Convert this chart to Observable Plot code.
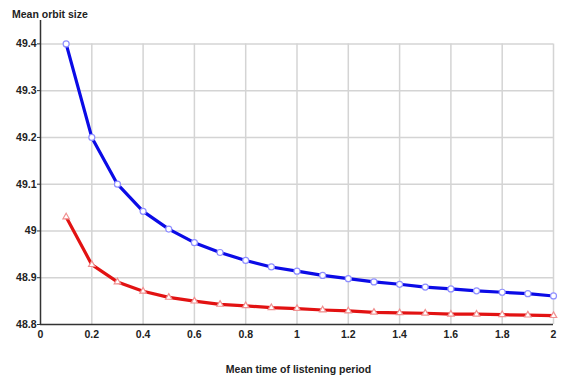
<!DOCTYPE html>
<html>
<head>
<meta charset="utf-8">
<script src="https://cdn.jsdelivr.net/npm/d3@7"></script>
<script src="https://cdn.jsdelivr.net/npm/@observablehq/plot@0.6"></script>
<style>
  body { margin: 0; background: #fff; }
  #wrap { position: relative; width: 571px; height: 377px; font-family: "Liberation Sans", Arial, sans-serif; }
  .lbl { position: absolute; font-weight: bold; font-size: 10.5px; color: #222; white-space: nowrap; }
</style>
</head>
<body>
<div id="wrap">
  <div id="chart"></div>
  <div class="lbl" style="left:12px; top:8px;">Mean orbit size</div>
  <div class="lbl" style="left:0; width:571px; text-align:center; padding-left:26px; box-sizing:border-box; top:363px;">Mean time of listening period</div>
</div>
<script>
const xs = [0.1, 0.2, 0.3, 0.4, 0.5, 0.6, 0.7, 0.8, 0.9, 1.0, 1.1, 1.2, 1.3, 1.4, 1.5, 1.6, 1.7, 1.8, 1.9, 2.0];
const blueSeries = [49.40, 49.20, 49.10, 49.042, 49.004, 48.975, 48.954, 48.937, 48.923, 48.914, 48.905, 48.898, 48.891, 48.886, 48.880, 48.876, 48.872, 48.869, 48.866, 48.861];
const redSeries = [49.030, 48.928, 48.891, 48.871, 48.858, 48.850, 48.843, 48.840, 48.836, 48.834, 48.831, 48.829, 48.826, 48.825, 48.824, 48.822, 48.822, 48.821, 48.820, 48.819];
const xTicks = [0, 0.2, 0.4, 0.6, 0.8, 1, 1.2, 1.4, 1.6, 1.8, 2];
const xTickLabels = ["0", "0.2", "0.4", "0.6", "0.8", "1", "1.2", "1.4", "1.6", "1.8", "2"];
const yTicks = [48.8, 48.9, 49, 49.1, 49.2, 49.3, 49.4];
const yTickLabels = ["48.8", "48.9", "49", "49.1", "49.2", "49.3", "49.4"];

const blueData = xs.map((x, i) => ({x, y: blueSeries[i]}));
const redData = xs.map((x, i) => ({x, y: redSeries[i]}));
const xFmt = d => xTickLabels[xTicks.findIndex(t => Math.abs(t - d) < 1e-9)];
const yFmt = d => yTickLabels[yTicks.findIndex(t => Math.abs(t - d) < 1e-9)];

const chart = Plot.plot({
  width: 571,
  height: 377,
  marginLeft: 40,
  marginRight: 18,
  marginTop: 20,
  marginBottom: 53,
  style: {background: "#fff", fontFamily: "Liberation Sans, Arial, sans-serif"},
  x: {domain: [0, 2]},
  y: {domain: [48.8, 49.45]},
  marks: [
    Plot.ruleY(yTicks.slice(1), {x1: 0, x2: 2, stroke: "#d4d4d4", strokeWidth: 1.5}),
    Plot.ruleX(xTicks.slice(1), {y1: 48.8, y2: 49.4, stroke: "#d4d4d4", strokeWidth: 1.5}),
    Plot.ruleX([0], {y1: 48.8, y2: 49.45, stroke: "#333", strokeWidth: 1.5}),
    Plot.ruleY([48.8], {x1: 0, x2: 2, stroke: "#333", strokeWidth: 1.5}),
    Plot.axisY({ticks: yTicks, tickFormat: yFmt, tickSize: 3, tickPadding: 1, fontWeight: "bold", fontSize: 10.5, fill: "#222", stroke: "#333", label: null}),
    Plot.axisX({ticks: xTicks, tickFormat: xFmt, tickSize: 0, tickPadding: 6, fontWeight: "bold", fontSize: 10.5, fill: "#222", label: null}),
    Plot.line(blueData, {x: "x", y: "y", stroke: "#0b0be6", strokeWidth: 3.2}),
    Plot.line(redData, {x: "x", y: "y", stroke: "#e21212", strokeWidth: 3.2}),
    Plot.dot(blueData, {x: "x", y: "y", r: 3, fill: "#fff", stroke: "#8f8fff", strokeWidth: 1.2}),
    Plot.dot(redData, {x: "x", y: "y", r: 2.4, symbol: "triangle", fill: "#fff", stroke: "#f09090", strokeWidth: 1.2})
  ]
});
document.getElementById("chart").appendChild(chart);
</script>
</body>
</html>
